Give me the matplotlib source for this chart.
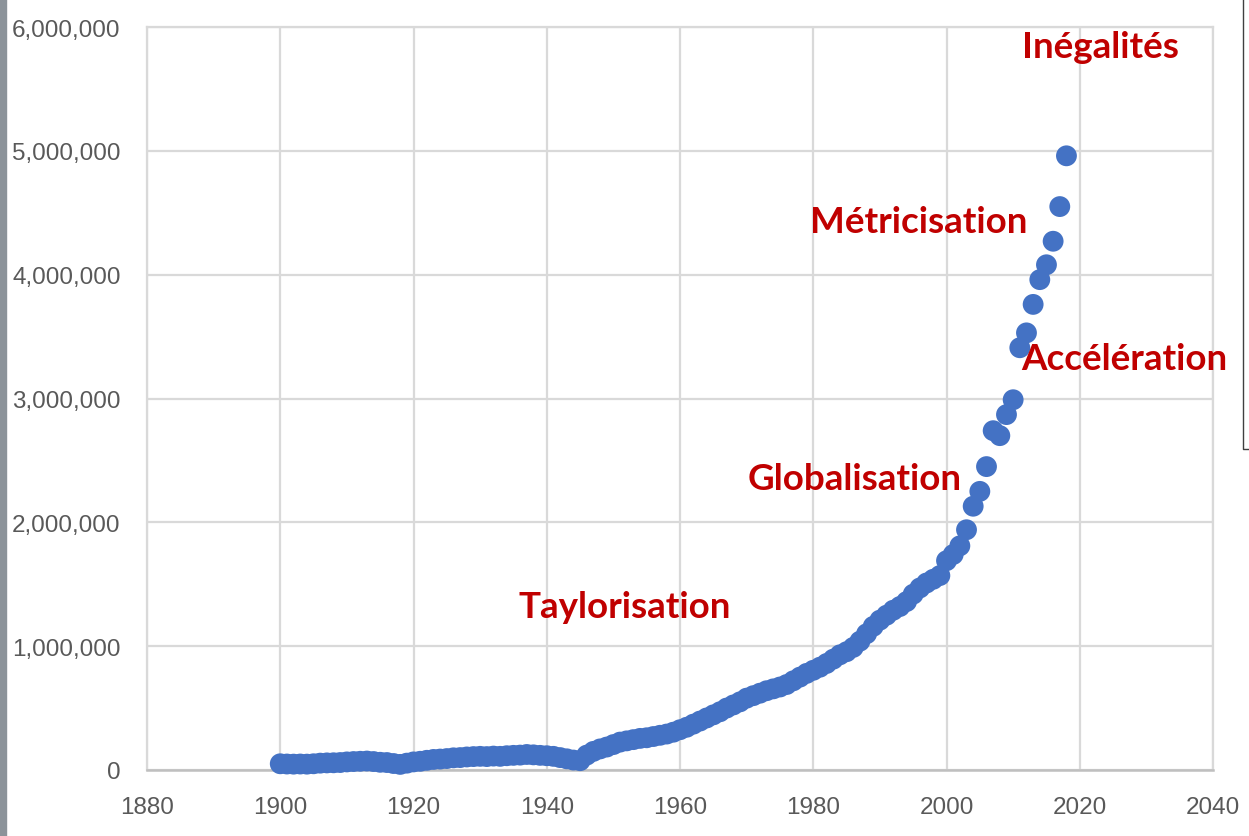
import matplotlib
matplotlib.use("Agg")
import matplotlib.pyplot as plt
from matplotlib.patches import Rectangle
from matplotlib.lines import Line2D
from matplotlib.ticker import FuncFormatter

# yearly values
years = list(range(1900, 2019))
values = [
    50000, 48000, 47000, 48000, 47000, 50000, 55000, 57000, 58000, 60000,      # 1900s
    65000, 68000, 70000, 72000, 68000, 62000, 60000, 52000, 45000, 55000,      # 1910s
    65000, 70000, 78000, 85000, 88000, 92000, 98000, 100000, 105000, 108000,   # 1920s
    110000, 108000, 112000, 110000, 115000, 118000, 120000, 125000, 122000, 118000,  # 1930s
    115000, 110000, 100000, 90000, 80000, 75000, 120000, 150000, 170000, 185000,     # 1940s
    205000, 225000, 235000, 245000, 255000, 260000, 270000, 280000, 290000, 305000,  # 1950s
    325000, 345000, 370000, 395000, 420000, 445000, 470000, 500000, 525000, 550000,  # 1960s
    580000, 600000, 620000, 640000, 655000, 670000, 690000, 720000, 750000, 780000,  # 1970s
    805000, 830000, 860000, 895000, 930000, 955000, 990000, 1040000, 1100000, 1160000,  # 1980s
    1210000, 1250000, 1290000, 1320000, 1360000, 1420000, 1470000, 1510000, 1540000, 1570000,  # 1990s
    1690000, 1740000, 1810000, 1940000, 2130000, 2250000, 2450000, 2740000, 2700000, 2870000,  # 2000s
    2990000, 3410000, 3530000, 3760000, 3960000, 4080000, 4270000, 4550000, 4960000,  # 2010s
]

labels = ["Inégalités", "Métricisation", "Accélération", "Globalisation", "Taylorisation"]
label_x = [2011.3, 1979.5, 2011.2, 1970.2, 1935.8]
label_y = [5840000, 4430000, 3320000, 2350000, 1320000]

fig = plt.figure(figsize=(12.49, 8.37), dpi=100)
ax = fig.add_axes([0.1177, 0.0789, 0.8535, 0.8876])

ax.scatter(years, values, s=225, color="#4472C4", edgecolors="none", zorder=3, clip_on=False)

for txt, x, y in zip(labels, label_x, label_y):
    ax.text(x, y, txt, color="#C00000", fontsize=26.5, fontweight="bold",
            family=["Lato", "DejaVu Sans"], ha="left", va="center", zorder=4)

ax.set_xlim(1880, 2040)
ax.set_ylim(0, 6000000)
ax.set_xticks(range(1880, 2041, 20))
ax.set_yticks(range(0, 6000001, 1000000))
ax.yaxis.set_major_formatter(FuncFormatter(lambda v, p: f"{int(v):,}"))

tick_font = ["Liberation Sans", "DejaVu Sans"]
for lab in ax.get_xticklabels() + ax.get_yticklabels():
    lab.set_family(tick_font)
    lab.set_fontsize(17.5)
    lab.set_color("#595959")
ax.tick_params(axis="both", length=0)
ax.tick_params(axis="x", pad=19)
ax.tick_params(axis="y", pad=19)

ax.grid(True, color="#d9d9d9", linewidth=1.6)
ax.set_axisbelow(True)
for side in ["top", "right", "left"]:
    ax.spines[side].set_color("#d9d9d9")
    ax.spines[side].set_linewidth(1.6)
ax.spines["bottom"].set_color("#bfbfbf")
ax.spines["bottom"].set_linewidth(1.8)

# grey strip on the left edge and box edge on the right
fig.patches.append(Rectangle((0, 0), 6 / 1249, 1, transform=fig.transFigure,
                             color="#8c939a", zorder=0))
fig.lines.append(Line2D([1243 / 1249, 1243 / 1249, 1], [1, 1 - 450 / 837, 1 - 450 / 837],
                        transform=fig.transFigure, color="#404040", linewidth=1))

fig.savefig("out.png", dpi=100)
